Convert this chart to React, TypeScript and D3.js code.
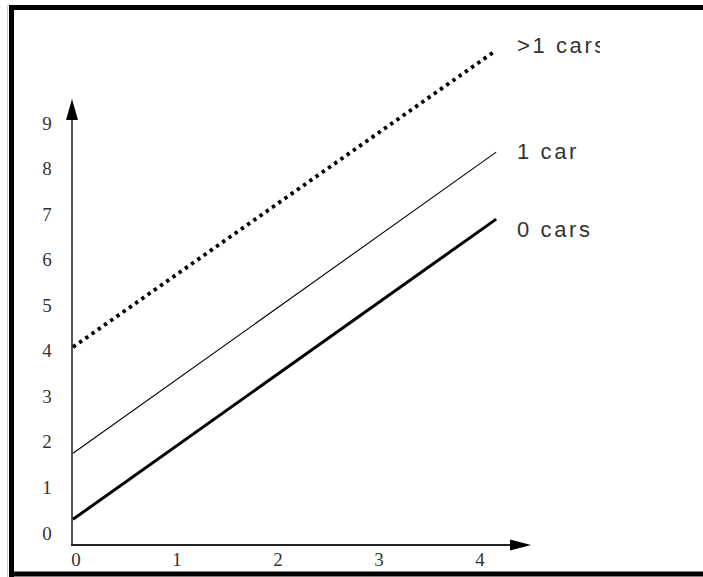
import React from "react";
import * as d3 from "d3";

const xTicks = [0, 1, 2, 3, 4];
const yTicks = [0, 1, 2, 3, 4, 5, 6, 7, 8, 9];
const seriesNames = ["0 cars", "1 car", ">1 cars"];
const seriesX = [
  [0, 4.19],
  [0, 4.19],
  [0, 4.16],
];
const seriesY = [
  [0.3, 6.89],
  [1.75, 8.36],
  [4.08, 10.55],
];
const labelY = [6.67, 8.38, 10.71];

export default function App() {
  const W = 703, H = 577;
  const x = d3.scaleLinear().domain([0, 4]).range([73, 477]);
  const y = d3.scaleLinear().domain([0, 9]).range([533, 123]);
  const line = d3
    .line<[number, number]>()
    .x((d) => x(d[0]))
    .y((d) => y(d[1]));
  const styles = [
    { w: 3, dash: undefined as string | undefined },
    { w: 1.1, dash: undefined as string | undefined },
    { w: 3.8, dash: "3.4 4.2" },
  ];
  const axisY = 545;
  const axisX = 72;
  return (
    <svg
      width={W}
      height={H}
      style={{ position: "fixed", left: 0, top: 0, background: "#fff" }}
    >
      <defs>
        <clipPath id="clipR">
          <rect x={0} y={0} width={600} height={H} />
        </clipPath>
      </defs>
      <rect x={0} y={0} width={W} height={H} fill="#fff" />
      {/* frame */}
      <line x1={7.5} y1={5} x2={7.5} y2={577} stroke="#ccc" strokeWidth={1} />
      <line x1={9} y1={7.5} x2={W} y2={7.5} stroke="#000" strokeWidth={5} />
      <line x1={11.5} y1={5} x2={11.5} y2={577} stroke="#000" strokeWidth={5} />
      <line x1={9} y1={574} x2={W} y2={574} stroke="#000" strokeWidth={5} />

      {/* y axis */}
      <line x1={axisX} y1={axisY + 1} x2={axisX} y2={115} stroke="#555" strokeWidth={2} />
      <path
        d={`M${axisX},99 L${axisX - 6},120 L${axisX + 6},120 Z`}
        fill="#000"
      />
      {/* x axis */}
      <line x1={axisX - 1} y1={axisY} x2={515} y2={axisY} stroke="#222" strokeWidth={2} />
      <path
        d={`M531,${axisY} L510,${axisY - 5.5} L510,${axisY + 5.5} Z`}
        fill="#000"
      />

      {yTicks.map((t) => (
        <text
          key={"y" + t}
          x={47}
          y={y(t)}
          textAnchor="middle"
          dominantBaseline="central"
          fontFamily="'Liberation Serif', 'DejaVu Serif', serif"
          fontSize={19}
          fill="#333"
        >
          {t}
        </text>
      ))}
      {xTicks.map((t) => (
        <text
          key={"x" + t}
          x={x(t) + 3}
          y={559}
          textAnchor="middle"
          dominantBaseline="central"
          fontFamily="'Liberation Serif', 'DejaVu Serif', serif"
          fontSize={19}
          fill="#333"
        >
          {t}
        </text>
      ))}

      {seriesNames.map((n, i) => {
        const pts: [number, number][] = seriesX[i].map((xv, j) => [xv, seriesY[i][j]]);
        return (
          <path
            key={n}
            d={line(pts) || ""}
            fill="none"
            stroke="#000"
            strokeWidth={styles[i].w}
            strokeDasharray={styles[i].dash}
          />
        );
      })}

      <g clipPath="url(#clipR)">
        {seriesNames.map((n, i) => (
          <text
            key={"l" + n}
            x={517}
            y={y(labelY[i])}
            dominantBaseline="central"
            fontFamily="'Liberation Sans', Arial, sans-serif"
            fontSize={22}
            letterSpacing={2.6}
            fill="#333"
          >
            {n}
          </text>
        ))}
      </g>
    </svg>
  );
}
